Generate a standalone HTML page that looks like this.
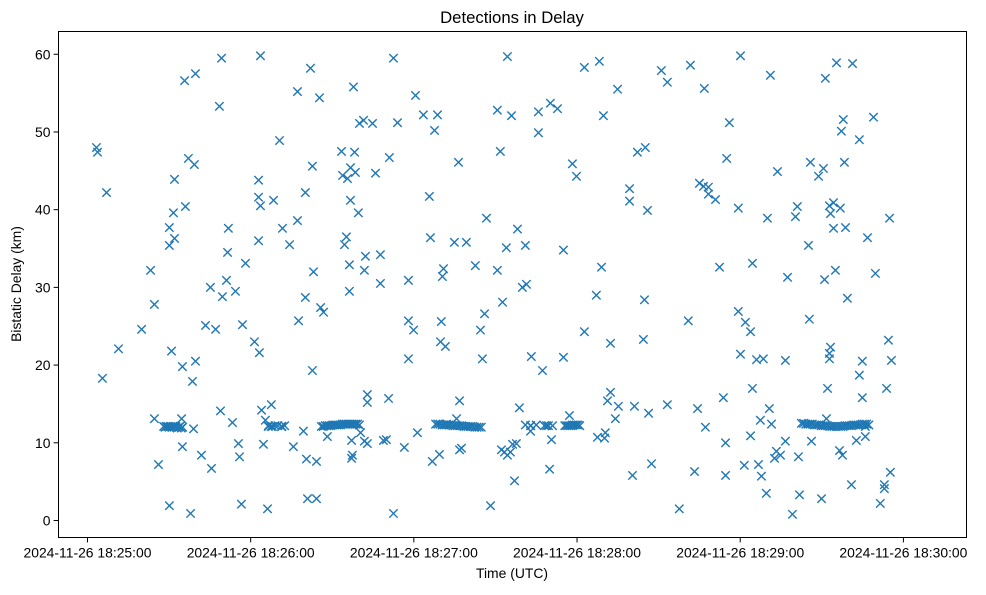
<!DOCTYPE html>
<html><head><meta charset="utf-8"><style>
body{margin:0;background:#fff;}
svg text{font-family:"Liberation Sans","DejaVu Sans",sans-serif;fill:#000;}
</style></head><body>
<svg id="chart" width="986" height="590" viewBox="0 0 986 590" xmlns="http://www.w3.org/2000/svg">
<rect x="0" y="0" width="986" height="590" fill="#fff"/>
<text x="512" y="23" font-size="16.7" text-anchor="middle">Detections in Delay</text>
<g id="marks"></g>
<rect x="58.5" y="31.5" width="908" height="506" fill="none" stroke="#000" stroke-width="1"/>
<g id="axes"></g>
<text x="512" y="578" font-size="13.9" text-anchor="middle">Time (UTC)</text>
<text x="21" y="284" font-size="13.9" text-anchor="middle" transform="rotate(-90 21 284)">Bistatic Delay (km)</text>
</svg>
<script>
// seconds after 2024-11-26 18:25:00
const times = [3.3,3.7,5.5,7.0,11.4,19.9,23.2,24.6,24.6,26.1,30.1,30.9,30.1,30.1,31.6,32.0,32.0,34.6,34.9,34.9,35.7,36.0,37.1,37.9,38.6,39.0,39.7,39.7,39.3,41.9,43.4,45.2,45.6,47.1,48.5,49.3,48.9,49.6,51.1,51.8,51.5,53.3,54.4,55.5,55.9,57.0,56.6,58.1,61.4,62.9,63.2,63.6,62.9,62.9,63.6,64.0,64.7,65.4,66.2,66.5,67.6,68.4,68.0,70.6,71.3,71.7,74.3,75.7,77.2,77.2,77.6,79.4,80.1,80.1,80.5,80.9,82.0,82.7,83.1,82.7,84.2,84.2,85.3,85.7,86.8,88.2,93.4,93.8,95.6,94.5,95.2,96.3,96.3,96.7,97.1,96.7,97.8,97.1,97.4,98.2,98.5,99.6,100.0,100.4,101.5,101.8,101.8,102.2,102.9,102.9,102.9,104.8,105.9,107.7,107.7,108.8,109.9,110.7,111.0,112.5,112.5,114.0,116.5,118.0,118.0,118.0,119.9,120.6,121.3,123.5,125.7,126.1,126.8,127.6,128.7,129.4,130.1,129.8,130.5,130.9,132.0,131.6,134.9,135.7,136.8,136.8,136.4,137.5,139.3,142.6,144.5,145.2,146.0,146.7,148.2,150.7,150.7,151.8,152.2,152.6,153.3,154.0,154.4,154.4,155.5,155.9,156.3,157.0,157.7,158.1,158.8,159.9,161.0,161.4,162.9,163.2,162.9,165.8,165.8,167.3,168.8,169.9,170.2,170.6,172.8,175.0,175.0,177.2,178.3,179.8,182.7,182.7,187.1,187.5,188.2,189.0,189.7,190.1,190.4,191.2,192.3,192.3,194.1,194.9,195.2,199.3,199.3,200.4,201.1,202.2,205.1,204.4,204.8,205.9,206.3,207.4,211.0,213.2,213.2,217.6,220.9,221.7,223.2,224.3,225.0,226.5,226.8,227.2,228.3,228.3,230.9,232.4,233.8,234.6,234.6,235.0,236.0,239.3,239.3,240.1,240.1,241.5,241.9,243.8,243.8,244.5,244.5,246.0,246.7,247.4,247.8,248.5,249.6,250.0,250.7,251.1,251.5,252.6,253.3,253.7,254.8,256.6,257.4,256.6,259.2,260.3,261.0,261.4,261.8,265.1,265.4,266.2,265.8,268.8,269.9,270.6,271.3,271.0,271.7,272.1,272.8,272.8,273.2,273.2,272.8,274.3,274.3,275.0,275.4,276.5,276.8,277.2,277.6,277.9,278.3,278.7,279.4,280.9,281.3,282.7,283.8,283.8,284.9,284.9,286.0,286.0,286.8,289.0,289.7,291.5,293.0,293.0,293.8,294.5,294.9,295.6,295.2,
// clusters
28,28.5,29,29.5,30,30.5,31,31.5,32,32.5,33,33.5,34,34.5,35,
66.5,67.5,69,70,71.5,72.5,
86,86.7,87.4,88.1,88.8,89.5,90.2,90.9,91.6,92.3,93,93.7,94.4,95.1,95.8,96.5,97.2,97.9,98.6,99.3,100,
128,128.8,129.6,130.4,131.2,132,132.8,133.6,134.4,135.2,136,136.8,137.6,138.4,139.2,140,140.8,141.6,142.4,143.2,144,144.8,
161,163,165,168,169.5,171,
175.5,176.2,176.9,177.6,178.3,179,179.7,180.4,181,
262.5,263.3,264.1,264.9,265.7,266.5,267.3,268.1,268.9,269.7,270.5,271.3,272.1,272.9,273.7,274.5,275.3,276.1,276.9,277.7,278.5,279.3,280.1,280.9,281.7,282.5,283.3,284.1,284.9,285.7,286.5,287.3];
const delays = [48.0,47.4,18.3,42.2,22.1,24.6,32.2,27.8,13.1,7.2,1.9,21.8,37.7,35.4,39.6,43.9,36.3,13.1,19.8,9.5,56.6,40.4,46.6,0.9,17.9,11.8,57.5,20.5,45.8,8.4,25.1,30.0,6.7,24.6,53.3,59.5,14.1,28.8,30.9,37.6,34.5,12.6,29.5,9.9,8.2,25.2,2.1,33.1,23.0,43.8,21.6,59.8,41.6,36.0,40.5,14.2,9.8,12.9,1.5,12.1,14.9,41.2,12.1,48.9,12.1,37.6,35.5,9.5,55.2,38.6,25.7,11.5,42.2,28.7,7.9,2.8,58.2,19.3,32.0,45.6,7.6,2.8,54.4,27.4,26.8,10.8,47.5,44.4,44.0,35.5,36.5,32.9,29.5,45.4,10.3,41.2,55.8,8.0,8.4,47.4,44.8,39.6,51.1,11.3,51.5,32.2,10.2,34.0,16.2,9.9,15.2,51.1,44.7,34.2,30.5,10.3,10.4,15.7,46.7,59.5,0.9,51.2,9.4,30.9,20.8,25.7,24.5,54.7,11.3,52.2,41.7,36.4,7.6,50.2,52.2,8.5,25.6,23.0,31.4,32.4,12.4,22.4,35.8,13.1,9.1,15.4,46.1,9.3,35.8,32.8,24.5,20.8,26.6,38.9,1.9,52.8,32.2,47.5,9.1,28.1,8.8,35.1,59.7,8.4,8.8,52.1,9.8,5.1,9.9,37.5,14.5,30.0,35.4,30.4,12.2,21.1,11.5,52.6,49.9,19.3,12.2,6.6,53.7,10.4,53.0,34.8,21.0,13.5,45.9,44.3,58.3,24.3,29.0,10.7,59.1,32.6,52.1,10.6,11.3,15.4,16.5,22.8,13.1,55.5,14.7,42.7,41.1,5.8,14.7,47.4,48.0,23.3,28.4,39.9,13.8,7.3,57.9,56.4,14.9,1.5,25.7,58.6,6.3,14.4,43.4,43.0,55.6,12.0,42.9,42.0,41.3,32.6,15.8,10.0,5.8,46.6,51.2,40.2,26.9,21.4,59.8,7.1,25.5,24.3,10.9,33.1,17.0,20.7,7.2,12.9,5.7,20.8,3.5,38.9,14.4,57.3,12.4,8.0,8.9,44.9,8.4,10.2,31.3,20.6,0.8,39.1,40.4,8.2,3.3,35.4,25.9,10.2,46.1,44.3,2.8,45.3,56.9,31.0,13.1,17.0,20.8,40.5,39.5,22.3,21.5,37.6,40.9,32.2,58.9,9.0,40.2,50.1,8.4,51.6,46.1,37.7,28.6,4.6,58.8,10.3,18.7,49.0,20.5,15.8,10.8,12.1,36.4,51.9,31.8,2.2,4.1,4.6,17.0,23.2,38.9,20.6,6.2,
12.1,12.0,12.1,12.1,12.0,12.1,12.0,12.1,12.0,12.1,11.9,12.0,12.1,11.9,12.0,
12.2,12.1,12.2,12.2,12.1,12.2,
12.1,12.1,12.2,12.2,12.2,12.2,12.3,12.3,12.3,12.3,12.3,12.4,12.4,12.4,12.4,12.4,12.4,12.4,12.4,12.4,12.3,
12.4,12.4,12.4,12.3,12.3,12.3,12.3,12.3,12.2,12.2,12.2,12.2,12.2,12.1,12.1,12.1,12.1,12.1,12.0,12.0,12.0,12.0,
12.3,12.2,12.3,12.2,12.2,12.2,
12.2,12.2,12.2,12.2,12.3,12.3,12.3,12.3,12.2,
12.5,12.5,12.4,12.4,12.4,12.4,12.3,12.3,12.3,12.2,12.2,12.2,12.2,12.1,12.1,12.1,12.1,12.1,12.1,12.1,12.2,12.2,12.2,12.2,12.3,12.3,12.3,12.3,12.4,12.4,12.4,12.3];
const xTickSeconds = [0,60,120,180,240,300];
const xTickLabels = ["2024-11-26 18:25:00","2024-11-26 18:26:00","2024-11-26 18:27:00","2024-11-26 18:28:00","2024-11-26 18:29:00","2024-11-26 18:30:00"];
const yTicks = [0,10,20,30,40,50,60];

const X0=58.5, X1=966.5, Y0=537.5, Y1=31.5;
const tMin=-10.66, tMax=323.2, vMin=-2.19, vMax=62.93;
function xs(t){return X0+(t-tMin)/(tMax-tMin)*(X1-X0);}
function ys(v){return Y0-(v-vMin)/(vMax-vMin)*(Y0-Y1);}
const NS="http://www.w3.org/2000/svg";
const marks=document.getElementById('marks');
const axes=document.getElementById('axes');
function mk(tag,attrs,parent){const e=document.createElementNS(NS,tag);for(const k in attrs)e.setAttribute(k,attrs[k]);parent.appendChild(e);return e;}
for(let i=0;i<times.length;i++){
  const cx=xs(times[i]), cy=ys(delays[i]), h=4.2;
  const p=mk('path',{d:`M${cx-h},${cy-h}L${cx+h},${cy+h}M${cx-h},${cy+h}L${cx+h},${cy-h}`,stroke:'#1f77b4','stroke-width':1.4,fill:'none'},marks);
  
  
}
xTickSeconds.forEach((t,i)=>{
  const x=xs(t);
  const l=mk('line',{x1:x,x2:x,y1:Y0,y2:Y0+4.9,stroke:'#000','stroke-width':1},axes);
  
  
  const tx=mk('text',{x:x,y:Y0+20,'font-size':13.9,'text-anchor':'middle'},axes);
  tx.textContent=xTickLabels[i];
  
  
});
yTicks.forEach(v=>{
  const y=ys(v);
  const l=mk('line',{x1:X0-4.9,x2:X0,y1:y,y2:y,stroke:'#000','stroke-width':1},axes);
  
  
  const tx=mk('text',{x:X0-8,y:y+5,'font-size':13.9,'text-anchor':'end'},axes);
  tx.textContent=String(v);
  
  
});
</script>
</body></html>
